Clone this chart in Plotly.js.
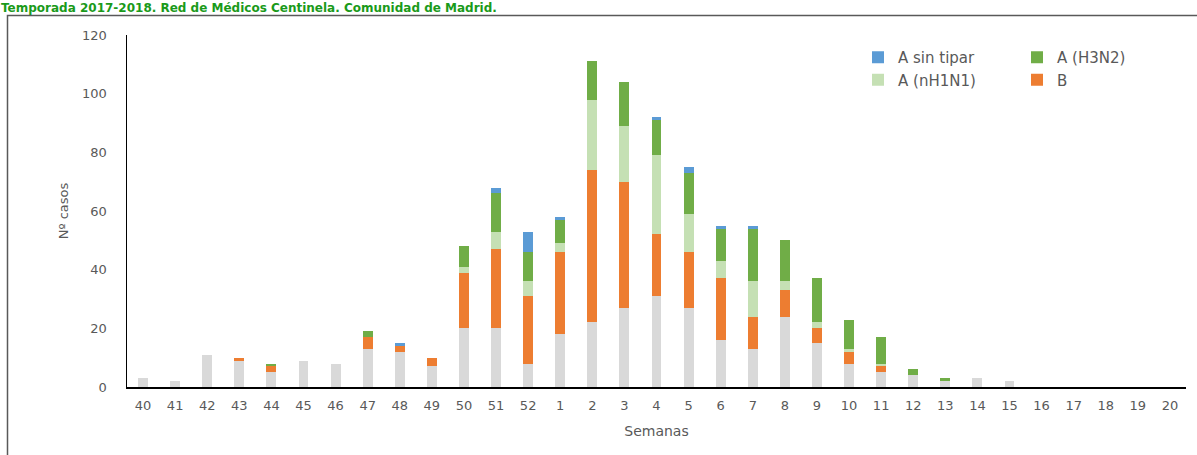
<!DOCTYPE html>
<html>
<head>
<meta charset="utf-8">
<script src="https://cdn.plot.ly/plotly-3.0.1.min.js"></script>
<style>html,body{margin:0;padding:0;background:#fff;}#chart{width:1197px;height:455px;}</style>
</head>
<body>
<div id="chart"></div>
<script>
const weeks = ["40","41","42","43","44","45","46","47","48","49","50","51","52","1","2","3","4","5","6","7","8","9","10","11","12","13","14","15","16","17","18","19","20"];
const grayBase = [3,2,11,9,5,9,8,13,12,7,20,20,8,18,22,27,31,27,16,13,24,15,8,5,4,2,3,2,0,0,0,0,0];
const seriesB = [0,0,0,1,2,0,0,4,2,3,19,27,23,28,52,43,21,19,21,11,9,5,4,2,0,0,0,0,0,0,0,0,0];
const seriesH1N1 = [0,0,0,0,0,0,0,0,0,0,2,6,5,3,24,19,27,13,6,12,3,2,1,1,0,0,0,0,0,0,0,0,0];
const seriesH3N2 = [0,0,0,0,1,0,0,2,0,0,7,13,10,8,13,15,12,14,11,18,14,15,10,9,2,1,0,0,0,0,0,0,0];
const seriesSinTipar = [0,0,0,0,0,0,0,0,1,0,0,2,7,1,0,0,1,2,1,1,0,0,0,0,0,0,0,0,0,0,0,0,0];

const titleText = "Temporada 2017-2018. Red de Médicos Centinela. Comunidad de Madrid.";
const font = "DejaVu Sans, sans-serif";
const txtColor = "#595959";

const mk = (name, y, color, legend, rank, show) => ({
  type: "bar", name: name, x: weeks, y: y,
  marker: {color: color, line: {width: 0}},
  legend: legend, legendrank: rank, showlegend: show,
  hoverinfo: "skip"
});

const traces = [
  mk("Otros", grayBase, "#d9d9d9", "legend", 10, false),
  mk("B", seriesB, "#ed7d31", "legend2", 2, true),
  mk("A (nH1N1)", seriesH1N1, "#c5e0b4", "legend", 2, true),
  mk("A (H3N2)", seriesH3N2, "#70ad47", "legend2", 1, true),
  mk("A sin tipar", seriesSinTipar, "#5b9bd5", "legend", 1, true)
];

const L = 127, R = 1186, T = 35, B = 387;
const px2x = p => (p - L) / (R - L);
const py2y = p => (B - p) / (B - T);

const layout = {
  width: 1197, height: 455,
  margin: {l: L, r: 1197 - R, t: T, b: 455 - B, pad: 0},
  paper_bgcolor: "#fff", plot_bgcolor: "#fff",
  barmode: "stack", bargap: 0.69,
  font: {family: font, color: txtColor, size: 13},
  xaxis: {
    type: "category", showgrid: false, zeroline: false,
    showline: true, linecolor: "#000", linewidth: 1.5,
    ticks: "", tickfont: {size: 13, color: txtColor},
    ticklabelstandoff: 6,
    title: {text: "Semanas", font: {size: 14, color: txtColor}, standoff: 14}
  },
  yaxis: {
    range: [0, 120], dtick: 20, showgrid: false, zeroline: false,
    showline: true, linecolor: "#000", linewidth: 1.5,
    ticks: "", tickfont: {size: 13, color: txtColor},
    ticklabelstandoff: 16,
    title: {text: "Nº casos", font: {size: 13, color: txtColor}, standoff: 10}
  },
  legend: {
    x: px2x(858), y: py2y(41), xanchor: "left", yanchor: "top",
    orientation: "v", font: {size: 15, color: txtColor},
    bgcolor: "rgba(0,0,0,0)", traceorder: "normal"
  },
  legend2: {
    x: px2x(1017), y: py2y(41), xanchor: "left", yanchor: "top",
    orientation: "v", font: {size: 15, color: txtColor},
    bgcolor: "rgba(0,0,0,0)", traceorder: "normal"
  },
  annotations: [{
    text: "<b>" + titleText + "</b>",
    xref: "paper", yref: "paper", x: px2x(0), y: py2y(0),
    xanchor: "left", yanchor: "top", showarrow: false, borderpad: 0,
    font: {family: "DejaVu Sans, sans-serif", size: 12, color: "#1a9a1a"}
  }],
  shapes: [{
    type: "path", xref: "paper", yref: "paper",
    path: "M " + px2x(7.5) + "," + py2y(460) + " L " + px2x(7.5) + "," + py2y(15.5) + " L " + px2x(1200) + "," + py2y(15.5),
    line: {color: "#595959", width: 1.5}
  }]
};

Plotly.newPlot("chart", traces, layout, {displayModeBar: false, staticPlot: true});
</script>
</body>
</html>
